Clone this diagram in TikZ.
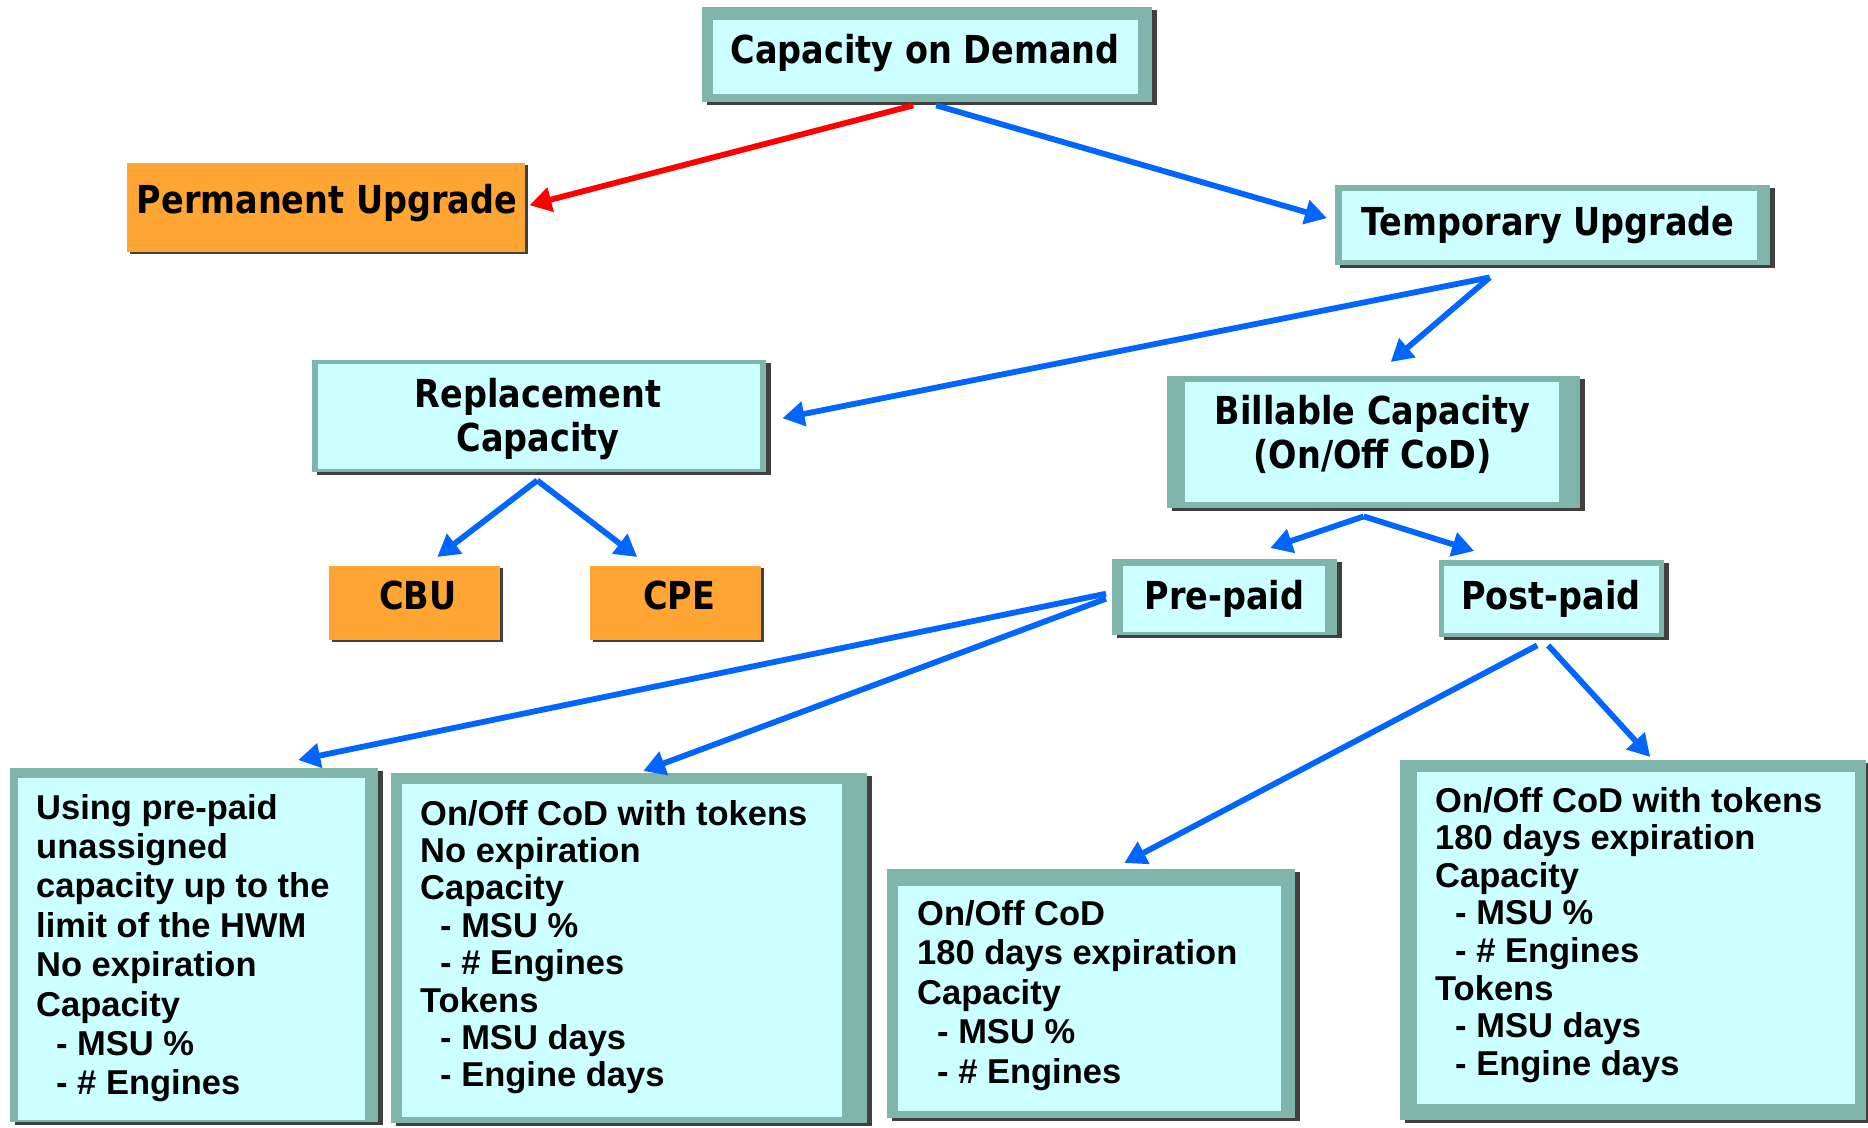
\documentclass[tikz,border=0pt]{standalone}
\usepackage{fontspec}
\usepackage{graphicx}
\usetikzlibrary{arrows.meta,calc,shadows}
\newfontfamily\headfont[FakeStretch=0.87]{DejaVu Sans}
\newfontfamily\bodyfont{Liberation Sans}
\definecolor{frameteal}{HTML}{7FB5AB}
\definecolor{panelcyan}{HTML}{CCFFFF}
\definecolor{upgradeorange}{HTML}{FFA533}
\definecolor{flowblue}{HTML}{0066FF}
\definecolor{flowred}{HTML}{FF0000}
\definecolor{shade}{HTML}{404040}

\tikzset{
  tealframe/.style={fill=frameteal, inner sep=0pt, anchor=north west,
    drop shadow={shadow xshift=5pt, shadow yshift=-3pt, fill=shade, opacity=1}},
  orangebox/.style={fill=upgradeorange, inner sep=0pt, anchor=north west,
    drop shadow={shadow xshift=3pt, shadow yshift=-2pt, fill=shade, opacity=1}},
  headtext/.style={inner sep=0pt, anchor=base, text=black,
    font=\headfont\bfseries\fontsize{38.5}{44}\selectfont},
  bodytext/.style={inner sep=0pt, anchor=base west, text=black,
    font=\bodyfont\bfseries\fontsize{34.5}{#1}\selectfont},
  bluearrow/.style={line width=5.8pt, draw=flowblue,
    -{Triangle[length=22pt,width=24pt]}},
  redarrow/.style={bluearrow, draw=flowred},
}

% teal frame with a light cyan panel inside:
% name, x, y, width, height, inset left, top, right, bottom
\newcommand{\tealbox}[9]{%
  \node[tealframe, minimum width=#4pt, minimum height=#5pt] (#1) at (#2,#3) {};
  \fill[panelcyan] ($(#1.north west)+(#6,#7)$) rectangle ($(#1.south east)+(-#8,-#9)$);
}
\newcommand{\indentitem}{\hspace*{20pt}}

\begin{document}
\begin{tikzpicture}[x=1pt,y=-1pt]
  \useasboundingbox (0,0) rectangle (1868,1127);
  \fill[white] (0,0) rectangle (1868,1127);

  % boxes
  \tealbox{cod}{702}{7}{450}{95}{11}{13}{14}{8}
  \node[orangebox, minimum width=398pt, minimum height=89pt] (perm) at (127,163) {};
  \tealbox{temp}{1335}{185}{435}{80}{7}{6}{13}{5}
  \tealbox{repl}{312}{360}{454}{112}{6}{4}{6}{3}
  \tealbox{bill}{1167}{376}{413}{132}{18}{6}{21}{6}
  \node[orangebox, minimum width=171pt, minimum height=74pt] (cbu) at (329,566) {};
  \node[orangebox, minimum width=171pt, minimum height=74pt] (cpe) at (590,566) {};
  \tealbox{pre}{1112}{559}{225}{76}{11}{7}{12}{3}
  \tealbox{post}{1439}{560}{225}{77}{5}{6}{5}{4}
  \tealbox{using}{10}{768}{368}{354}{8}{10}{13}{2}
  \tealbox{tokens}{391}{773}{476}{350}{11}{11}{25}{6}
  \tealbox{postcod}{887}{869}{408}{249}{11}{17}{14}{7}
  \tealbox{posttok}{1400}{760}{466}{360}{17}{12}{11}{16}

  % headings
  \node[headtext] (codtext) at (925,63) {Capacity on Demand};
  \node[headtext] (permtext) at (327,213) {Permanent Upgrade};
  \node[headtext] (temptext) at (1548,235) {Temporary Upgrade};
  \node[headtext] (repltext) at (538,407)
    {\begin{tabular}[t]{@{}c@{}}Replacement\\Capacity\end{tabular}};
  \node[headtext] (billtext) at (1372.5,424)
    {\begin{tabular}[t]{@{}c@{}}Billable Capacity\\(On/Off CoD)\end{tabular}};
  \node[headtext] (cbutext) at (418,609) {CBU};
  \node[headtext] (cpetext) at (679,609) {CPE};
  \node[headtext] (pretext) at (1224.5,609) {Pre-paid};
  \node[headtext] (posttext) at (1551,609) {Post-paid};

  % details
  \node[bodytext=39.4] (usingtext) at (36,819) {\begin{tabular}[t]{@{}l@{}}
    Using pre-paid\\unassigned\\capacity up to the\\limit of the HWM\\
    No expiration\\Capacity\\\indentitem- MSU \%\\\indentitem- \# Engines\end{tabular}};
  \node[bodytext=37.4] (tokenstext) at (420,825) {\begin{tabular}[t]{@{}l@{}}
    On/Off CoD with tokens\\No expiration\\Capacity\\\indentitem- MSU \%\\
    \indentitem- \# Engines\\Tokens\\\indentitem- MSU days\\\indentitem- Engine days\end{tabular}};
  \node[bodytext=39.5] (postcodtext) at (917,925) {\begin{tabular}[t]{@{}l@{}}
    On/Off CoD\\180 days expiration\\Capacity\\\indentitem- MSU \%\\
    \indentitem- \# Engines\end{tabular}};
  \node[bodytext=37.6] (posttoktext) at (1435,812) {\begin{tabular}[t]{@{}l@{}}
    On/Off CoD with tokens\\180 days expiration\\Capacity\\\indentitem- MSU \%\\
    \indentitem- \# Engines\\Tokens\\\indentitem- MSU days\\\indentitem- Engine days\end{tabular}};

  % connectors
  \draw[redarrow]  ($(cod.south)+(-14,3)$) -- ($(perm.east)+(4,-2.5)$);
  \draw[bluearrow] ($(cod.south)+(9,3)$) -- ($(temp.west)+(-8,-7)$);
  \draw[bluearrow] ($(temp.south)+(-63,12)$) -- ($(repl.east)+(16,2)$);
  \draw[bluearrow] ($(temp.south)+(-63,12)$) -- ($(bill.north)+(17,-14)$);
  \draw[bluearrow] ($(repl.south)+(-2,8)$) -- ($(cbu.north)+(22.5,-9)$);
  \draw[bluearrow] ($(repl.south)+(-2,8)$) -- ($(cpe.north)+(-38.5,-9)$);
  \draw[bluearrow] ($(bill.south)+(-10,8)$) -- ($(pre.north)+(45.5,-11)$);
  \draw[bluearrow] ($(bill.south)+(-10,8)$) -- ($(post.north)+(-77.5,-9)$);
  \draw[bluearrow] ($(pre.west)+(-6,-3.5)$) -- ($(using.north)+(104,-8)$);
  \draw[bluearrow] ($(pre.west)+(-6,1.5)$) -- ($(tokens.north)+(14,-2)$);
  \draw[bluearrow] ($(post.south)+(-14.5,8)$) -- ($(postcod.north)+(33,-6)$);
  \draw[bluearrow] ($(post.south)+(-3.5,8)$) -- ($(posttok.north)+(17,-3)$);
\end{tikzpicture}
\end{document}
